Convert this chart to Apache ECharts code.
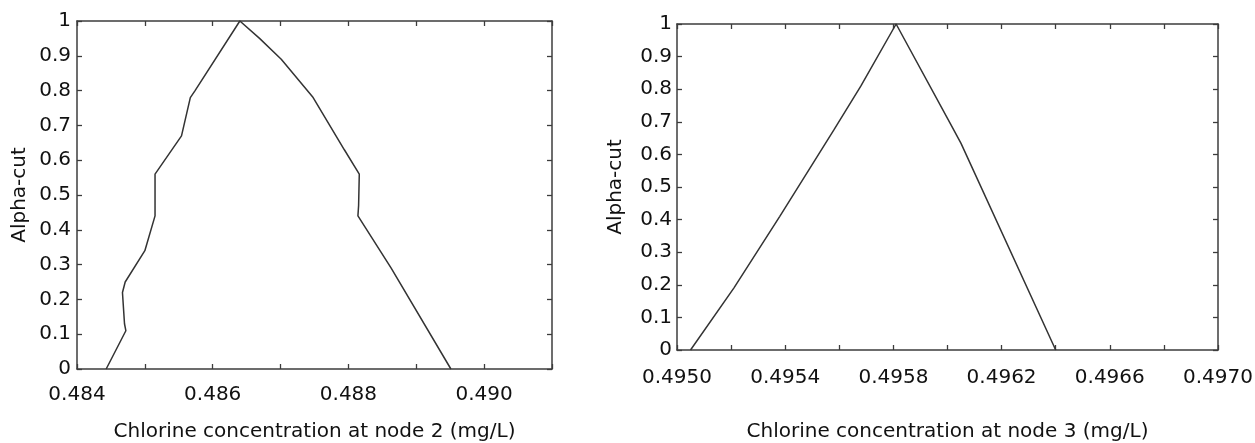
<!DOCTYPE html>
<html>
<head>
<meta charset="utf-8">
<script src="https://cdn.jsdelivr.net/npm/echarts@6/dist/echarts.min.js"></script>
<style>
  html, body { margin: 0; padding: 0; background: #fff; }
  #chart { width: 1255px; height: 443px; }
</style>
</head>
<body>
<div id="chart"></div>
<script>
// alpha-cut curve, node 2
var node2X = [0.48443, 0.48472, 0.48470, 0.48467, 0.48471, 0.48500, 0.48515, 0.48515, 0.48554, 0.48567, 0.48574, 0.48640,
              0.48669, 0.48701, 0.48748, 0.48794, 0.48816, 0.48815, 0.48814, 0.48863, 0.48951];
var node2Y = [0, 0.11, 0.13, 0.22, 0.25, 0.34, 0.44, 0.56, 0.67, 0.78, 0.80, 1,
              0.95, 0.89, 0.78, 0.63, 0.56, 0.47, 0.44, 0.29, 0];
// alpha-cut curve, node 3
var node3X = [0.49505, 0.49521, 0.49538, 0.49558, 0.49568, 0.49581, 0.49601, 0.49605, 0.49640];
var node3Y = [0, 0.19, 0.41, 0.675, 0.81, 1, 0.695, 0.634, 0];

var node2Ticks = ['0.484', '0.486', '0.488', '0.490'];
var node3Ticks = ['0.4950', '0.4954', '0.4958', '0.4962', '0.4966', '0.4970'];

var font = 'DejaVu Sans';
var axisCol = '#3c3c3c';
var lineCol = '#333';

function pairs(xs, ys) {
  return xs.map(function (x, i) { return [x, ys[i]]; });
}

function xAx(grid, min, max, step, ticks, digits, gap, name, nameGap, top) {
  return {
    type: 'value', gridIndex: grid, min: min, max: max, interval: step,
    position: top ? 'top' : 'bottom',
    name: top ? '' : name, nameLocation: 'middle', nameGap: nameGap,
    nameTextStyle: { fontFamily: font, fontSize: 20, color: '#111' },
    axisLine: { show: true, onZero: false, lineStyle: { color: axisCol, width: 1.5 } },
    axisTick: { show: true, inside: true, length: 5, lineStyle: { color: axisCol, width: 1.3 } },
    splitLine: { show: false },
    axisLabel: {
      show: !top, margin: gap, fontFamily: font, fontSize: 20, color: '#111',
      showMinLabel: true, showMaxLabel: true,
      formatter: function (v) {
        var s = v.toFixed(digits);
        return ticks.indexOf(s) >= 0 ? s : '';
      }
    }
  };
}

function yAx(grid, gap, nameGap, right) {
  return {
    type: 'value', gridIndex: grid, min: 0, max: 1, interval: 0.1,
    position: right ? 'right' : 'left',
    name: right ? '' : 'Alpha-cut', nameLocation: 'middle', nameGap: nameGap,
    nameTextStyle: { fontFamily: font, fontSize: 20, color: '#111' },
    axisLine: { show: true, onZero: false, lineStyle: { color: axisCol, width: 1.5 } },
    axisTick: { show: true, inside: true, length: 5, lineStyle: { color: axisCol, width: 1.3 } },
    splitLine: { show: false },
    axisLabel: { show: !right, margin: gap, fontFamily: font, fontSize: 20, color: '#111' }
  };
}

var chart = echarts.init(document.getElementById('chart'));
chart.setOption({
  animation: false,
  backgroundColor: '#fff',
  grid: [
    { left: 77, top: 21, width: 475, height: 348, outerBoundsMode: 'none' },
    { left: 677, top: 24, width: 541, height: 326, outerBoundsMode: 'none' }
  ],
  xAxis: [
    xAx(0, 0.484, 0.491, 0.001, node2Ticks, 3, 16, 'Chlorine concentration at node 2 (mg/L)', 53, false),
    xAx(0, 0.484, 0.491, 0.001, node2Ticks, 3, 16, '', 0, true),
    xAx(1, 0.4950, 0.4970, 0.0002, node3Ticks, 4, 18, 'Chlorine concentration at node 3 (mg/L)', 72, false),
    xAx(1, 0.4950, 0.4970, 0.0002, node3Ticks, 4, 18, '', 0, true)
  ],
  yAxis: [
    yAx(0, 6, 47, false),
    yAx(0, 6, 0, true),
    yAx(1, 5, 51, false),
    yAx(1, 5, 0, true)
  ],
  series: [
    {
      type: 'line', xAxisIndex: 0, yAxisIndex: 0, data: pairs(node2X, node2Y),
      symbol: 'none', clip: false, lineStyle: { color: lineCol, width: 1.5 }
    },
    {
      type: 'line', xAxisIndex: 2, yAxisIndex: 2, data: pairs(node3X, node3Y),
      symbol: 'none', clip: false, lineStyle: { color: lineCol, width: 1.5 }
    }
  ]
});
</script>
</body>
</html>
